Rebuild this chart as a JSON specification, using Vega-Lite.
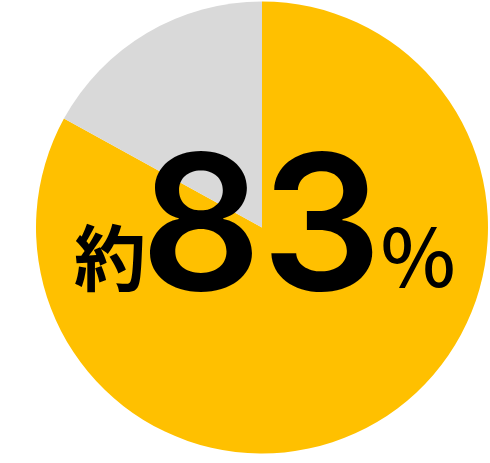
{
  "$schema": "https://vega.github.io/schema/vega-lite/v6.json",
  "autosize": {"type": "fit", "contains": "padding"},
  "width": 490,
  "height": 463,
  "padding": {"left": 34, "right": 0, "top": 0, "bottom": 8},
  "background": "white",
  "view": {"stroke": null},
  "datasets": {
    "shares": [
      {"category": "該当", "value": 83, "rank": 1},
      {"category": "その他", "value": 17, "rank": 2}
    ],
    "labels": [
      {"part": "prefix", "label": "約"},
      {"part": "number", "label": "83"},
      {"part": "unit", "label": "%"}
    ]
  },
  "layer": [
    {
      "data": {"name": "shares"},
      "mark": {"type": "arc", "radius": 226, "stroke": null},
      "encoding": {
        "theta": {"field": "value", "type": "quantitative", "stack": true},
        "order": {"field": "rank", "type": "quantitative"},
        "color": {
          "field": "category",
          "type": "nominal",
          "scale": {"domain": ["該当", "その他"], "range": ["#FFC000", "#D9D9D9"]},
          "legend": null
        }
      }
    },
    {
      "data": {"name": "labels"},
      "transform": [{"filter": "datum.part === 'prefix'"}],
      "mark": {"type": "text", "font": "Noto Sans CJK JP", "fontWeight": "bold", "fontSize": 72, "align": "center", "baseline": "alphabetic", "dx": -152, "dy": 57, "color": "black"},
      "encoding": {"text": {"field": "label"}}
    },
    {
      "data": {"name": "labels"},
      "transform": [{"filter": "datum.part === 'number'"}],
      "mark": {"type": "text", "font": "Inter", "fontWeight": 600, "fontSize": 189, "align": "center", "baseline": "alphabetic", "dx": -1, "dy": 62, "color": "black"},
      "encoding": {"text": {"field": "label"}}
    },
    {
      "data": {"name": "labels"},
      "transform": [{"filter": "datum.part === 'unit'"}],
      "mark": {"type": "text", "font": "Noto Sans CJK JP", "fontWeight": 500, "fontSize": 80, "align": "center", "baseline": "alphabetic", "dx": 156, "dy": 59, "color": "black"},
      "encoding": {"text": {"field": "label"}}
    }
  ]
}
